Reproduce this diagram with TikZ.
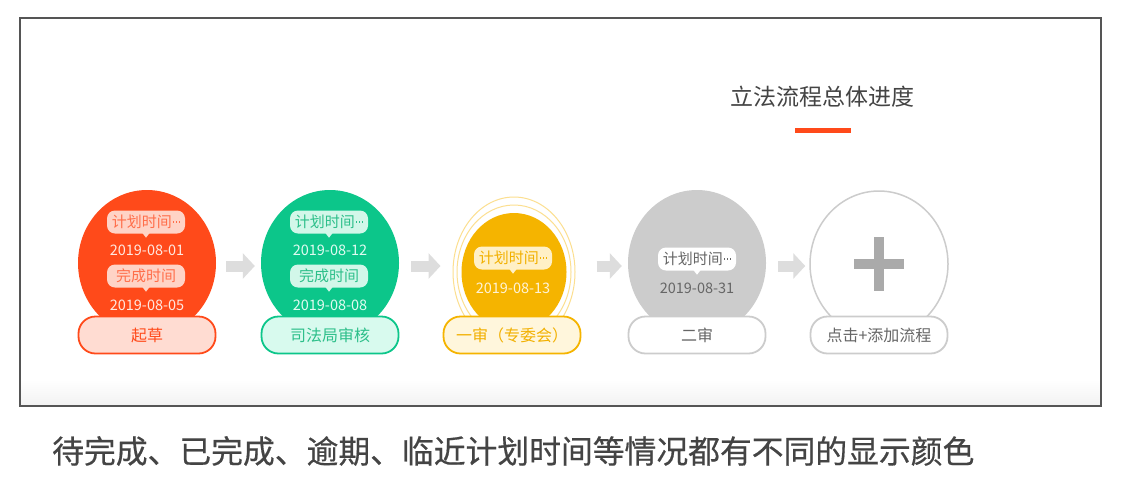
\documentclass[tikz,border=0pt]{standalone}
\usepackage{fontspec}
\newfontfamily\cjk{Noto Sans CJK SC}
\newfontfamily\cjkb{Noto Sans CJK SC}[FakeBold=0.5]
\usetikzlibrary{shapes.geometric,arrows.meta}
\definecolor{redF}{HTML}{FF4A1A}
\definecolor{redL}{HTML}{FFDCD2}
\definecolor{redB}{HTML}{FFD3C6}
\definecolor{redT}{HTML}{FF6E4A}
\definecolor{redD}{HTML}{FFE8E0}
\definecolor{grnF}{HTML}{0CC68A}
\definecolor{grnL}{HTML}{D8FAEE}
\definecolor{grnB}{HTML}{D2F7E9}
\definecolor{grnT}{HTML}{2DBF8A}
\definecolor{grnD}{HTML}{E0FBF1}
\definecolor{ylwF}{HTML}{F5B400}
\definecolor{ylwR}{HTML}{FCDF90}
\definecolor{ylwL}{HTML}{FFF6DC}
\definecolor{ylwB}{HTML}{FFF0C6}
\definecolor{ylwT}{HTML}{F2B000}
\definecolor{ylwD}{HTML}{FFF3D6}
\definecolor{gryF}{HTML}{CCCCCC}
\definecolor{gryT}{HTML}{666666}
\definecolor{arrowC}{HTML}{DDDDDD}
\definecolor{plusC}{HTML}{AAAAAA}
\definecolor{textC}{HTML}{444444}
\definecolor{frameC}{HTML}{555555}
\tikzset{
  stage/.style={ellipse, minimum width=138pt, minimum height=146pt, inner sep=0pt},
  pill/.style={rounded corners=17pt, minimum width=137pt, minimum height=37pt, inner sep=0pt, line width=1.8pt, font=\cjk\fontsize{16}{16}\selectfont},
  bubble/.style={rounded corners=8pt, minimum width=78pt, minimum height=23pt, inner sep=0pt, font=\cjk\fontsize{15}{15}\selectfont},
  datet/.style={inner sep=0pt, font=\cjk\fontsize{14.5}{14.5}\selectfont},
  flow/.style={draw=arrowC, line width=11pt, -{Triangle[length=12pt,width=25pt]}},
  ring/.style={ellipse, draw=ylwR, line width=1pt, inner sep=0pt}
}
\newcommand{\tail}[2]{\fill[#2] ([xshift=-3.5pt,yshift=0.5pt]#1.south) -- ([xshift=3.5pt,yshift=0.5pt]#1.south) -- ([yshift=-4pt]#1.south) -- cycle;}
\newcommand{\mydots}{\kern1pt\raisebox{4.8pt}{\rule{1.6pt}{1.6pt}\kern1.3pt\rule{1.6pt}{1.6pt}\kern1.3pt\rule{1.6pt}{1.6pt}}}
\begin{document}
\begin{tikzpicture}[x=1pt,y=-1pt]
\useasboundingbox (0,0) rectangle (1139,483);
\fill[white] (0,0) rectangle (1139,483);
% frame
\shade[top color=white, bottom color=black!5] (21,380) rectangle (1100,405);
\draw[frameC, line width=1.3pt] (20,18) rectangle (1101,406);
% title
\node[font=\cjk\fontsize{23}{23}\selectfont, text=textC] (title) at (822,97) {立法流程总体进度};
\fill[redF] (795,128) rectangle (851,132.5);

% stage 1 red
\node[stage, fill=redF] (s1) at (147,263) {};
\node[bubble, fill=redB, text=redT] (b1a) at (146,222) {计划时间\mydots};
\tail{b1a}{redB}
\node[datet, text=redD] (d1a) at (147,250) {2019-08-01};
\node[bubble, fill=redB, text=redT] (b1b) at (146,276) {完成时间};
\tail{b1b}{redB}
\node[datet, text=redD] (d1b) at (147,305) {2019-08-05};
\node[pill, draw=redF, fill=redL, text=redF] (p1) at (147,335) {起草};

% stage 2 green
\node[stage, fill=grnF] (s2) at (330,263) {};
\node[bubble, fill=grnB, text=grnT] (b2a) at (329,222) {计划时间\mydots};
\tail{b2a}{grnB}
\node[datet, text=grnD] (d2a) at (330,250) {2019-08-12};
\node[bubble, fill=grnB, text=grnT] (b2b) at (329,276) {完成时间};
\tail{b2b}{grnB}
\node[datet, text=grnD] (d2b) at (330,305) {2019-08-08};
\node[pill, draw=grnF, fill=grnL, text=grnT] (p2) at (330,335) {司法局审核};

% stage 3 yellow
\node[ring, minimum width=122pt, minimum height=150pt] (r3a) at (514,272) {};
\node[ring, minimum width=114pt, minimum height=134pt] (r3b) at (514,272) {};
\node[ellipse, fill=ylwF, inner sep=0pt, minimum width=105pt, minimum height=118pt] (s3) at (514,272) {};
\node[bubble, fill=ylwB, text=ylwT] (b3a) at (513,258) {计划时间\mydots};
\tail{b3a}{ylwB}
\node[datet, text=ylwD] (d3a) at (513,288) {2019-08-13};
\node[pill, draw=ylwF, fill=ylwL, text=ylwT] (p3) at (512,335) {一审（专委会）};

% stage 4 gray
\node[stage, fill=gryF] (s4) at (697,263) {};
\node[bubble, fill=white, text=gryT] (b4a) at (697,259) {计划时间\mydots};
\tail{b4a}{white}
\node[datet, text=gryT] (d4a) at (697,288) {2019-08-31};
\node[pill, draw=gryF, fill=white, text=gryT] (p4) at (697,335) {二审};

% stage 5 add
\node[stage, draw=gryF, line width=1.5pt, fill=white] (s5) at (879,264) {};
\fill[plusC] ([xshift=-5pt,yshift=27pt]s5.center) rectangle ([xshift=5pt,yshift=-27pt]s5.center);
\fill[plusC] ([xshift=-25pt,yshift=5pt]s5.center) rectangle ([xshift=25pt,yshift=-5pt]s5.center);
\node[pill, draw=gryF, fill=white, text=gryT] (p5) at (879,335) {点击+添加流程};

% flow arrows
\draw[flow] ([xshift=10pt,yshift=-3pt]s1.east) -- ([xshift=-6pt,yshift=-3pt]s2.west);
\draw[flow] ([xshift=12pt,yshift=-3pt]s2.east) -- ([xshift=-12pt,yshift=6pt]r3a.west);
\draw[flow] ([xshift=21pt,yshift=6pt]r3a.east) -- ([xshift=-6pt,yshift=-3pt]s4.west);
\draw[flow] ([xshift=12pt,yshift=-3pt]s4.east) -- ([xshift=-4pt,yshift=-2pt]s5.west);

% caption
\node[anchor=west, inner sep=0pt, font=\cjkb\fontsize{31.8}{31.8}\selectfont, text=textC] (cap) at (52,451) {待完成、已完成、逾期、临近计划时间等情况都有不同的显示颜色};
\end{tikzpicture}
\end{document}
